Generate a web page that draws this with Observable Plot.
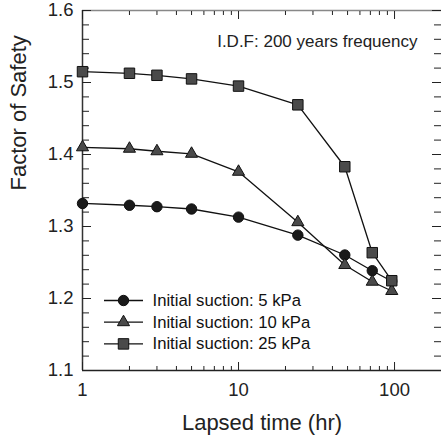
<!DOCTYPE html>
<html><head><meta charset="utf-8">
<script src="https://cdn.jsdelivr.net/npm/d3@7"></script>
<script src="https://cdn.jsdelivr.net/npm/@observablehq/plot@0.6"></script>
<style>body{margin:0;background:#fff;} #chart svg{display:block;}</style>
</head><body><div id="chart"></div>
<script>
// ---- data ----
const hours = [1, 2, 3, 5, 10, 24, 48, 72, 96];
const fs5  = [1.332, 1.3295, 1.3275, 1.3243, 1.313, 1.288, 1.2604, 1.2386, 1.224];
const fs10 = [1.410, 1.408, 1.4045, 1.401, 1.376, 1.306, 1.2465, 1.2233, 1.2104];
const fs25 = [1.515, 1.5128, 1.510, 1.505, 1.495, 1.469, 1.383, 1.2636, 1.2247];
const seriesNames = ["Initial suction: 5 kPa", "Initial suction: 10 kPa", "Initial suction: 25 kPa"];
const xDomain = [1, 200];
const yDomain = [1.1, 1.6];
const xMajorTicks = [1, 10, 100];
const xMinorTicks = [2, 3, 4, 5, 6, 7, 8, 9, 20, 30, 40, 50, 60, 70, 80, 90, 200];
const yMajorTicks = [1.1, 1.2, 1.3, 1.4, 1.5, 1.6];
const yMinorTicks = [1.12, 1.14, 1.16, 1.18, 1.22, 1.24, 1.26, 1.28, 1.32, 1.34, 1.36, 1.38,
                     1.42, 1.44, 1.46, 1.48, 1.52, 1.54, 1.56, 1.58];
const xLabel = "Lapsed time (hr)";
const yLabel = "Factor of Safety";
const note = "I.D.F: 200 years frequency";

// ---- styles ----
const seriesValues = [fs5, fs10, fs25];
const symbols = ["circle", "triangle", "square"];
const fills = ["#1a1a1a", "#4a4a4a", "#4a4a4a"];
const radii = [5.2, 4.5, 5.9];
const font = "'Liberation Sans', Arial, sans-serif";

const rows = seriesNames.map((name, i) => hours.map((h, j) => ({hours: h, fs: seriesValues[i][j], series: name})));

const lineSymbol = {draw(context) { context.moveTo(-19.5, 0); context.lineTo(19.5, 0); }};

const marks = [];
// frame lines
marks.push(Plot.ruleY([yDomain[1]], {stroke: "#888", strokeWidth: 1.5}));
marks.push(Plot.ruleY([yDomain[0]], {stroke: "#222", strokeWidth: 1.5}));
marks.push(Plot.ruleX([xDomain[0]], {stroke: "#333", strokeWidth: 1.5}));

// ticks (inward)
const noText = () => "";
marks.push(Plot.axisX(xMinorTicks, {anchor: "bottom", tickSize: -4, tickFormat: noText, label: null, stroke: "#222"}));
marks.push(Plot.axisX(xMajorTicks, {anchor: "bottom", tickSize: -8, tickFormat: noText, label: null, stroke: "#222"}));
marks.push(Plot.axisX(xMinorTicks, {anchor: "top", tickSize: -4, tickFormat: noText, label: null, stroke: "#222"}));
marks.push(Plot.axisX(xMajorTicks, {anchor: "top", tickSize: -8, tickFormat: noText, label: null, stroke: "#222"}));
marks.push(Plot.axisY(yMinorTicks, {anchor: "left", tickSize: -7, tickFormat: noText, label: null, stroke: "#222"}));
marks.push(Plot.axisY(yMajorTicks, {anchor: "left", tickSize: -9, tickFormat: noText, label: null, stroke: "#222"}));
marks.push(Plot.axisY(yMinorTicks, {anchor: "right", tickSize: -8, tickFormat: noText, label: null, stroke: "#222"}));
marks.push(Plot.axisY(yMajorTicks, {anchor: "right", tickSize: -10, tickFormat: noText, label: null, stroke: "#222"}));

// tick labels
marks.push(Plot.axisX(xMajorTicks, {anchor: "bottom", tickSize: 0, tickPadding: 12, tickFormat: d => String(d), label: null, fontSize: 18.5, fill: "#222"}));
marks.push(Plot.axisY(yMajorTicks, {anchor: "left", tickSize: 0, tickPadding: 9, tickFormat: d3.format(".1f"), label: null, fontSize: 18.5, fill: "#222"}));

// axis titles and note
marks.push(Plot.text([xLabel], {frameAnchor: "bottom", dy: 52, lineAnchor: "middle", text: d => d, fontSize: 22, fill: "#222"}));
marks.push(Plot.text([yLabel], {frameAnchor: "left", dx: -64, rotate: -90, lineAnchor: "middle", text: d => d, fontSize: 22, fill: "#222"}));
marks.push(Plot.text([note], {frameAnchor: "top-right", dx: -24, dy: 31, textAnchor: "end", lineAnchor: "middle", text: d => d, fontSize: 17, fill: "#222"}));

// series
rows.forEach((r, i) => {
  marks.push(Plot.line(r, {x: "hours", y: "fs", stroke: "#111", strokeWidth: 1.3}));
  marks.push(Plot.dot(r, {x: "hours", y: "fs", symbol: symbols[i], r: radii[i], fill: fills[i], stroke: "#111", strokeWidth: 1}));
});

// legend
seriesNames.forEach((name, i) => {
  const dy = -70 + 21.7 * i;
  marks.push(Plot.dot([name], {frameAnchor: "bottom-left", dx: 41, dy, symbol: lineSymbol, r: 5, stroke: "#111", strokeWidth: 1.3, fill: "none"}));
  marks.push(Plot.dot([name], {frameAnchor: "bottom-left", dx: 41, dy, symbol: symbols[i], r: radii[i], fill: fills[i], stroke: "#111", strokeWidth: 1}));
  marks.push(Plot.text([name], {frameAnchor: "bottom-left", dx: 70, dy, textAnchor: "start", lineAnchor: "middle", text: d => d, fontSize: 16.7, fill: "#111"}));
});

const chart = Plot.plot({
  width: 441,
  height: 435,
  marginLeft: 82,
  marginRight: 0,
  marginTop: 10,
  marginBottom: 65,
  style: {fontFamily: font, background: "#fff", overflow: "visible"},
  x: {type: "log", domain: xDomain, axis: null},
  y: {domain: yDomain, axis: null},
  marks
});
document.getElementById("chart").appendChild(chart);
</script>
</body></html>
